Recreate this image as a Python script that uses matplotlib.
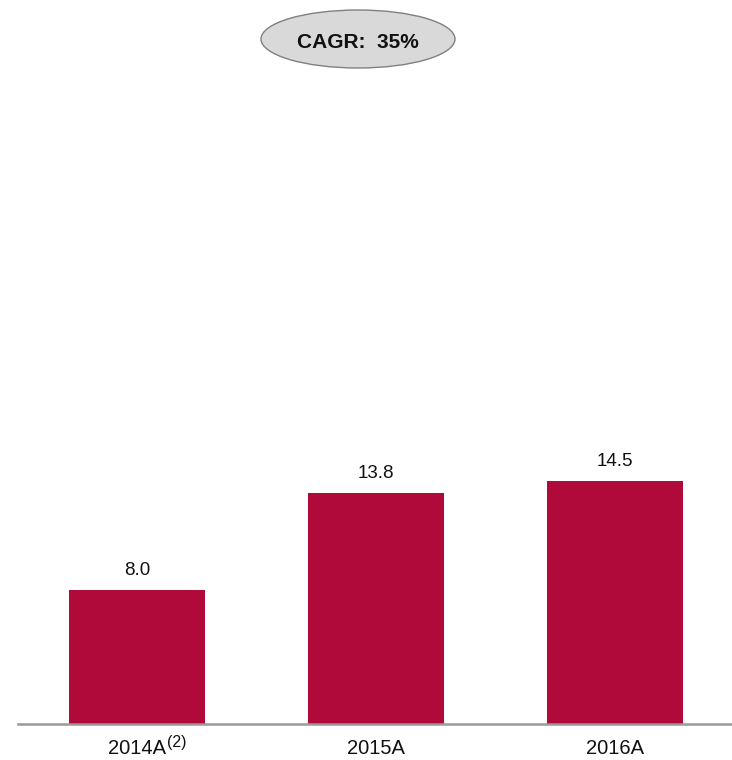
import matplotlib
matplotlib.use("Agg")
import matplotlib.pyplot as plt
from matplotlib.patches import Ellipse

plt.rcParams["font.family"] = ["Liberation Sans", "DejaVu Sans"]

categories = ["2014A", "2015A", "2016A"]
footnotes = ["(2)", "", ""]
values = [8.0, 13.8, 14.5]
cagr_label = "CAGR:  35%"

bar_color = "#B00A3A"
text_color = "#111111"

fig = plt.figure(figsize=(7.32, 7.60), dpi=100)
ax = fig.add_axes([18 / 732, 36 / 760, 716 / 732, 670 / 760])

x = list(range(len(values)))
ax.bar(x, values, width=0.57, color=bar_color, zorder=2)

for xi, v in zip(x, values):
    ax.annotate(f"{v:.1f}", (xi, v), xytext=(0, 11), textcoords="offset points",
                ha="center", va="baseline", fontsize=13.5, color=text_color)

ax.set_xlim(-0.5, 2.5)
ax.set_ylim(0, 40)
ax.set_xticks(x)
ax.set_xticklabels(categories, fontsize=14.5, color=text_color)
ax.tick_params(axis="x", length=0, pad=10.5)
ax.set_yticks([])
for side in ["top", "right", "left"]:
    ax.spines[side].set_visible(False)
ax.spines["bottom"].set_color("#999999")
ax.spines["bottom"].set_linewidth(1.8)

# Footnote markers raised after the category labels
for lbl, note in zip(ax.get_xticklabels(), footnotes):
    if note:
        ax.annotate(note, xy=(1.0, 0.0), xycoords=lbl, xytext=(0.5, 7.5),
                    textcoords="offset points", ha="left", va="baseline",
                    fontsize=11.5, color=text_color, annotation_clip=False)

# CAGR bubble above the bars
ell = Ellipse((358 / 732, 1 - 39 / 760), 194 / 732, 58 / 760, transform=fig.transFigure,
              facecolor="#D9D9D9", edgecolor="#808080", linewidth=1.0)
fig.patches.append(ell)
fig.text(358 / 732, 1 - 48 / 760, cagr_label, ha="center", va="baseline",
         fontsize=15, fontweight="bold", color=text_color)

fig.savefig("out.png", dpi=100, facecolor="white")
